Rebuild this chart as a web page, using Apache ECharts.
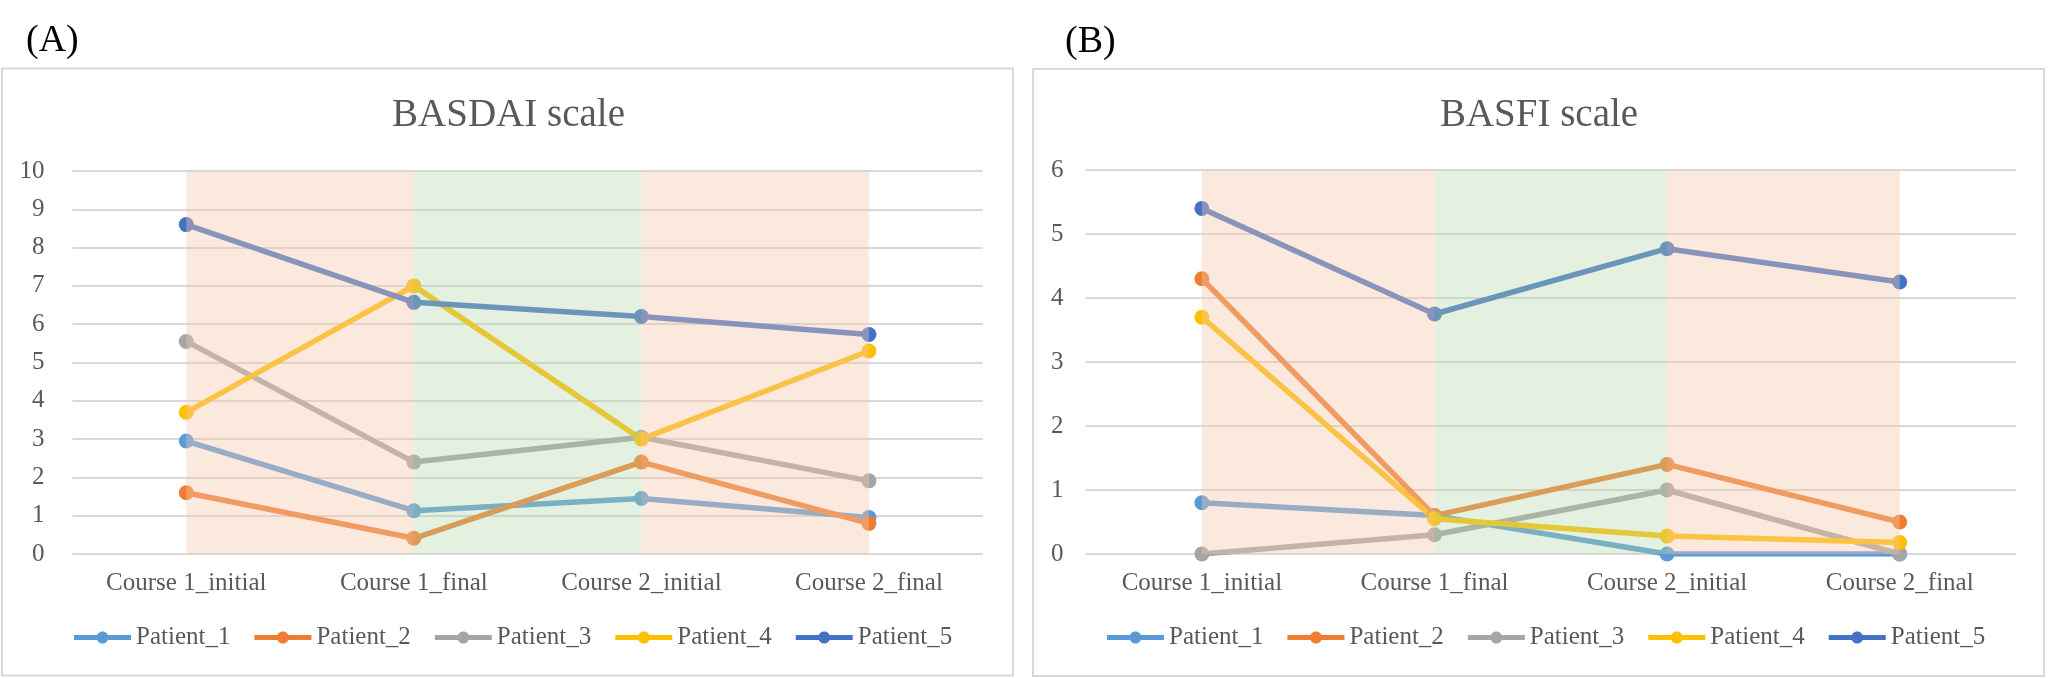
<!DOCTYPE html>
<html>
<head>
<meta charset="utf-8">
<script src="https://cdn.jsdelivr.net/npm/echarts@6/dist/echarts.min.js"></script>
<style>
html,body{margin:0;padding:0;background:#fff;}
#main{width:2048px;height:678px;}
</style>
</head>
<body>
<div id="main"></div>
<script>
// ---- data ----
const categories = ['Course 1_initial', 'Course 1_final', 'Course 2_initial', 'Course 2_final'];
const patientNames = ['Patient_1', 'Patient_2', 'Patient_3', 'Patient_4', 'Patient_5'];
const basdaiP1 = [2.95, 1.13, 1.45, 0.95];
const basdaiP2 = [1.6, 0.41, 2.4, 0.8];
const basdaiP3 = [5.55, 2.4, 3.05, 1.91];
const basdaiP4 = [3.7, 7.0, 3.0, 5.3];
const basdaiP5 = [8.6, 6.57, 6.2, 5.73];
const basfiP1 = [0.8, 0.6, 0, 0];
const basfiP2 = [4.3, 0.6, 1.4, 0.5];
const basfiP3 = [0, 0.3, 1.0, 0];
const basfiP4 = [3.7, 0.55, 0.28, 0.18];
const basfiP5 = [5.4, 3.75, 4.77, 4.25];
const basdaiTicks = [0, 10, 1];
const basfiTicks = [0, 6, 1];

// ---- styles ----
const colors = ['#5B9BD5', '#ED7D31', '#A5A5A5', '#FFC000', '#4472C4'];
const FONT = '"Liberation Serif", "Times New Roman", serif';
const TXT = '#595959';
const PINK = 'rgba(245,200,172,0.4)';
const GREEN = 'rgba(180,215,165,0.35)';
// legend icon: thick line with a dot in the middle (57 x 12 box)
const LEGEND_ICON = 'path://M0,3.6 H57 V8.4 H0 Z ' +
  'M22.5,6 C22.5,2.686 25.186,0 28.5,0 C31.814,0 34.5,2.686 34.5,6 ' +
  'C34.5,9.314 31.814,12 28.5,12 C25.186,12 22.5,9.314 22.5,6 Z';

function bands(maxV) {
  return {
    silent: true,
    z: 5,
    data: [
      [{ xAxis: categories[0], yAxis: 0, itemStyle: { color: PINK } }, { xAxis: categories[1], yAxis: maxV }],
      [{ xAxis: categories[1], yAxis: 0, itemStyle: { color: GREEN } }, { xAxis: categories[2], yAxis: maxV }],
      [{ xAxis: categories[2], yAxis: 0, itemStyle: { color: PINK } }, { xAxis: categories[3], yAxis: maxV }]
    ]
  };
}

function makeSeries(sets, axisIdx, maxV) {
  return sets.map((d, i) => {
    const s = {
      name: patientNames[i],
      type: 'line',
      xAxisIndex: axisIdx,
      yAxisIndex: axisIdx,
      data: d,
      symbol: 'circle',
      symbolSize: 15,
      color: colors[i],
      lineStyle: { width: 5.5, color: colors[i], cap: 'round', join: 'round' },
      itemStyle: { color: colors[i] },
      emphasis: { disabled: true },
      animation: false
    };
    if (i === 0) s.markArea = bands(maxV);
    return s;
  });
}

function xAxisCfg(gi) {
  return {
    type: 'category', gridIndex: gi, data: categories, boundaryGap: true,
    axisLine: { show: false }, axisTick: { show: false },
    axisLabel: { color: TXT, fontFamily: FONT, fontSize: 25, margin: 17 }
  };
}
function yAxisCfg(gi, t, margin) {
  return {
    type: 'value', gridIndex: gi, min: t[0], max: t[1], interval: t[2],
    axisLine: { show: false }, axisTick: { show: false },
    axisLabel: { color: TXT, fontFamily: FONT, fontSize: 25, margin: margin },
    splitLine: { lineStyle: { color: '#D9D9D9', width: 2 } }
  };
}
function legendCfg(left) {
  return {
    data: patientNames.map(n => ({ name: n, icon: LEGEND_ICON })),
    left: left, top: 625, orient: 'horizontal', padding: 0,
    itemWidth: 57, itemHeight: 12, itemGap: 24,
    textStyle: { color: TXT, fontFamily: FONT, fontSize: 25 },
    selectedMode: false
  };
}

const chart = echarts.init(document.getElementById('main'), null, { renderer: 'canvas' });
chart.setOption({
  backgroundColor: '#ffffff',
  animation: false,
  grid: [
    { left: 72.5, right: 2048 - 982.7, top: 171, bottom: 678 - 554 },
    { left: 1085.6, right: 2048 - 2016, top: 170, bottom: 678 - 554 }
  ],
  xAxis: [xAxisCfg(0), xAxisCfg(1)],
  yAxis: [yAxisCfg(0, basdaiTicks, 28), yAxisCfg(1, basfiTicks, 22)],
  legend: [legendCfg(74), legendCfg(1107)],
  graphic: [
    { type: 'rect', z: 0, shape: { x: 2, y: 68.5, width: 1011, height: 607 }, style: { fill: 'none', stroke: '#D9D9D9', lineWidth: 2 } },
    { type: 'rect', z: 0, shape: { x: 1033, y: 69, width: 1011, height: 607 }, style: { fill: 'none', stroke: '#D9D9D9', lineWidth: 2 } },
    { type: 'text', style: { text: '(A)', x: 26, y: 41, font: '38px ' + FONT, fill: '#000', textAlign: 'left', textVerticalAlign: 'middle' } },
    { type: 'text', style: { text: '(B)', x: 1065, y: 42, font: '38px ' + FONT, fill: '#000', textAlign: 'left', textVerticalAlign: 'middle' } },
    { type: 'text', style: { text: 'BASDAI scale', x: 508.5, y: 116, font: '39px ' + FONT, fill: TXT, textAlign: 'center', textVerticalAlign: 'middle' } },
    { type: 'text', style: { text: 'BASFI scale', x: 1539, y: 116, font: '39px ' + FONT, fill: TXT, textAlign: 'center', textVerticalAlign: 'middle' } }
  ],
  series: [
    ...makeSeries([basdaiP1, basdaiP2, basdaiP3, basdaiP4, basdaiP5], 0, basdaiTicks[1]),
    ...makeSeries([basfiP1, basfiP2, basfiP3, basfiP4, basfiP5], 1, basfiTicks[1])
  ]
});
</script>
</body>
</html>
